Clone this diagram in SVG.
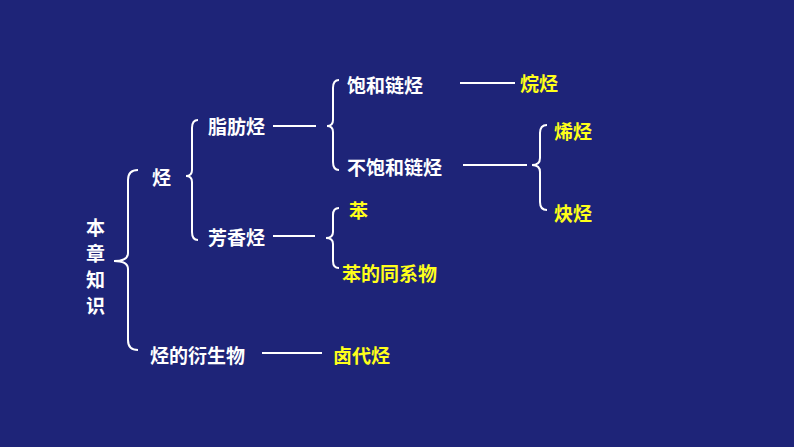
<svg xmlns="http://www.w3.org/2000/svg" width="794" height="447" viewBox="0 0 794 447">
<style>
text{font-family:"Noto Sans CJK SC",sans-serif;font-size:19px;font-weight:bold;fill:#fff;dominant-baseline:central}
.y{fill:#ffff1a}
.c path,.c line{stroke:#fff;stroke-width:2;fill:none}
</style>
<rect width="794" height="447" fill="#1e2478"/>
<g class="c" id="connectors">
<path d="M138,170 Q128,170 128,180 L128,253 Q128,261 114,261 Q128,261 128,269 L128,340 Q128,350 138,350"/>
<path d="M198,120 Q192,120 192,128 L192,170 Q192,176 186,176 Q192,176 192,182 L192,232 Q192,240 198,240"/>
<path d="M339,80 Q333,80 333,88 L333,120 Q333,126 327,126 Q333,126 333,132 L333,162 Q333,170 339,170"/>
<path d="M339,208 Q333,208 333,215 L333,232 Q333,238 326,238 Q333,238 333,244 L333,261 Q333,268 339,268"/>
<path d="M547,125 Q540,125 540,133 L540,158 Q540,165 532,165 Q540,165 540,172 L540,202 Q540,210 547,210"/>
<line x1="273" y1="126" x2="316" y2="126"/>
<line x1="273" y1="236" x2="315" y2="236"/>
<line x1="460" y1="83" x2="515" y2="83"/>
<line x1="463" y1="165" x2="527" y2="165"/>
<line x1="262" y1="353" x2="322" y2="353"/>
</g>
<g id="n-root"><text x="86" y="226">本</text><text x="86" y="252">章</text><text x="86" y="278">知</text><text x="86" y="304">识</text></g>
<g id="n-ting"><text x="152" y="176">烃</text></g>
<g id="n-zhifang"><text x="208" y="125">脂肪烃</text></g>
<g id="n-fangxiang"><text x="208" y="236">芳香烃</text></g>
<g id="n-baohe"><text x="347" y="84">饱和链烃</text></g>
<g id="n-buhe"><text x="347" y="166">不饱和链烃</text></g>
<g id="n-wan"><text class="y" x="520" y="82">烷烃</text></g>
<g id="n-xi"><text class="y" x="554" y="130">烯烃</text></g>
<g id="n-que"><text class="y" x="554" y="212">炔烃</text></g>
<g id="n-ben"><text class="y" x="349" y="209">苯</text></g>
<g id="n-benxi"><text class="y" x="342" y="272">苯的同系物</text></g>
<g id="n-yan"><text x="150" y="354">烃的衍生物</text></g>
<g id="n-lu"><text class="y" x="333" y="354">卤代烃</text></g>
</svg>
